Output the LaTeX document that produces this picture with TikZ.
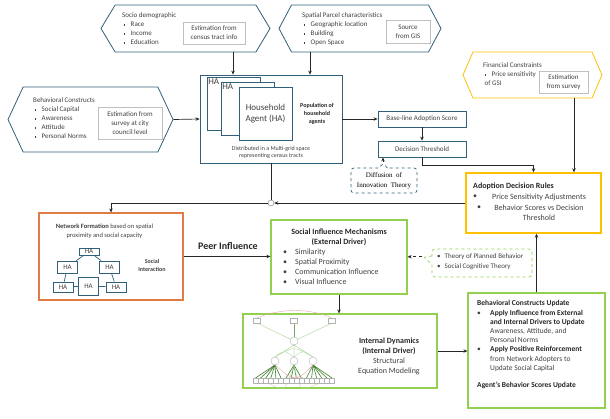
\documentclass[tikz,border=0pt]{standalone}
\usepackage{fontspec}
\setmainfont{Carlito}
\newfontfamily\theoryfont{Liberation Serif}
\usepackage{tikz}
\usetikzlibrary{arrows.meta, positioning, calc, shapes.symbols, shapes.callouts}
\definecolor{agentblue}{HTML}{31607A}
\definecolor{rulegold}{HTML}{FFC000}
\definecolor{drivergreen}{HTML}{92D050}
\definecolor{netorange}{HTML}{E07B45}
\definecolor{notegray}{HTML}{BFBFBF}
\definecolor{textgray}{HTML}{404040}
\definecolor{semgreen}{HTML}{3E7E2A}
\definecolor{semlight}{HTML}{B5D9A5}
\definecolor{semred}{HTML}{EBA8A8}
\newcommand{\sqitem}[1]{\hspace*{1.5pt}\raisebox{0.25ex}{\rule{1.5pt}{1.5pt}}\hspace{5.5pt}#1}
\newcommand{\hangbul}{\makebox[13pt][l]{\textbullet}}
\newcommand{\hangpad}{\hspace*{13pt}}

\begin{document}
\begin{tikzpicture}[x=1pt, y=-1pt, font=\fontsize{7}{9}\selectfont, text=textgray,
  inputbox/.style={signal, signal to=west and east, draw=agentblue, line width=0.8pt, inner sep=0pt},
  notebox/.style={draw=notegray, line width=0.8pt, align=center, inner sep=1pt},
  agentbox/.style={draw=agentblue, line width=0.8pt, fill=white, inner sep=0pt},
  drivebox/.style={draw=drivergreen, line width=1.2pt, inner sep=0pt},
  hanode/.style={agentbox, font=\fontsize{7}{8}\selectfont, minimum width=20pt},
  theorynote/.style={rectangle callout, rounded corners=3pt, dashed, line width=0.7pt, inner sep=0pt, callout pointer width=8pt},
  link/.style={-{Stealth[length=4pt,width=3.5pt]}, line width=0.7pt, draw=black!85}]
  \useasboundingbox (0,0) rectangle (610,418);

  % Input hexagons
  \node[inputbox, minimum width=169pt, minimum height=47pt, signal pointer angle=118] (socio) at (185.5,28.5) {};
  \node[anchor=north west, align=left, inner sep=0pt] at (122,12.5) {Socio demographic\\ \sqitem{Race}\\ \sqitem{Income}\\ \sqitem{Education}};
  \node[notebox, minimum width=62pt, minimum height=22pt] (censusnote) at (214,33) {Estimation from\\census tract info};

  \node[inputbox, minimum width=162pt, minimum height=47pt, signal pointer angle=124] (parcel) at (360,28.5) {};
  \node[anchor=north west, align=left, inner sep=0pt] at (302,12.5) {Spatial Parcel characteristics\\ \sqitem{Geographic location}\\ \sqitem{Building}\\ \sqitem{Open Space}};
  \node[notebox, minimum width=44pt, minimum height=23pt] (gisnote) at (408,31.5) {Source\\from GIS};

  \node[inputbox, minimum width=165pt, minimum height=65pt, signal pointer angle=130] (behav) at (90.5,119.5) {};
  \node[anchor=north west, align=left, inner sep=0pt] at (33,97.5) {Behavioral Constructs\\ \sqitem{Social Capital}\\ \sqitem{Awareness}\\ \sqitem{Attitude}\\ \sqitem{Personal Norms}};
  \node[notebox, minimum width=64pt, minimum height=32pt] (surveynote) at (130,123) {Estimation from\\survey at city\\council level};

  \node[inputbox, draw=rulegold, minimum width=139pt, minimum height=46pt, signal pointer angle=133] (finance) at (532.5,75) {};
  \node[anchor=north west, align=left, inner sep=0pt] at (483,62.5) {Financial Constraints\\ \sqitem{Price sensitivity}\\ \hspace*{1.5pt}of GSI};
  \node[notebox, minimum width=49pt, minimum height=22pt] (finnote) at (563.5,82) {Estimation\\from survey};

  % Population of household agents
  \node[draw=agentblue, line width=0.8pt, minimum width=142pt, minimum height=88pt] (pop) at (271,119) {};
  \node[agentbox, minimum width=53pt, minimum height=53pt] (haA) at (233.5,103.5) {};
  \node[anchor=north west, font=\fontsize{9}{10}\selectfont, inner sep=1.5pt] at (haA.north west) {HA};
  \node[agentbox, minimum width=53pt, minimum height=53pt] (haB) at (247.5,108.5) {};
  \node[anchor=north west, font=\fontsize{9}{10}\selectfont, inner sep=1.5pt] at (haB.north west) {HA};
  \node[agentbox, minimum width=53pt, minimum height=53pt, align=center, font=\fontsize{9}{11}\selectfont] (haC) at (265.5,113.5) {Household\\Agent (HA)};
  \node[align=center, font=\bfseries\fontsize{6}{8}\selectfont, text=black!85] at (317,113.5) {Population of\\household\\agents};
  \node[align=center, font=\fontsize{6}{7}\selectfont] at (271,152.5) {Distributed in a Multi-grid space\\representing census tracts};

  % Scores
  \node[draw=agentblue, line width=0.8pt, minimum width=88pt, minimum height=16pt] (baseline) at (422,119) {Base-line Adoption Score};
  \node[draw=agentblue, line width=0.8pt, minimum width=88pt, minimum height=16pt] (threshold) at (422,149) {Decision Threshold};
  \node[theorynote, draw=agentblue, minimum width=66pt, minimum height=25pt, callout absolute pointer={(383,163)}, align=center, font=\theoryfont\fontsize{7}{10}\selectfont, text=black] (diffusion) at (384,180.5) {Diffusion\enspace of\\Innovation\enspace Theory};

  % Adoption decision rules
  \node[draw=rulegold, line width=1.4pt, minimum width=135pt, minimum height=60pt] (adopt) at (533.5,203) {};
  \node[anchor=west, inner sep=0pt, font=\bfseries\fontsize{8}{10}\selectfont, text=black!85] at (473,186) {Adoption Decision Rules};
  \node[inner sep=0pt, font=\fontsize{8}{10}\selectfont] at (475,197) {\textbullet};
  \node[inner sep=0pt, font=\fontsize{8}{10}\selectfont] at (479,207.5) {\textbullet};
  \node[align=center, inner sep=0pt, font=\fontsize{8}{10.5}\selectfont] at (539,207.5) {Price Sensitivity Adjustments\\Behavior Scores vs Decision\\Threshold};

  % Network formation
  \node[draw=netorange, line width=1.2pt, minimum width=144pt, minimum height=87pt] (net) at (111,256.5) {};
  \node[align=center, font=\fontsize{6.5}{9}\selectfont] at (104.5,231.5) {\textbf{Network Formation} based on spatial\\proximity and social capacity};
  \node[hanode, minimum height=7pt] (haTop) at (89,251.5) {HA};
  \node[hanode, minimum height=12pt] (haLeft) at (67.5,267) {HA};
  \node[hanode, minimum height=12pt] (haRight) at (109.5,267) {HA};
  \node[hanode, minimum height=10pt] (haLowL) at (63,287) {HA};
  \node[hanode, minimum height=18pt] (haLowM) at (88.5,286) {HA};
  \node[hanode, minimum height=10pt] (haLowR) at (116,287) {HA};
  \draw[agentblue, line width=0.7pt] (haTop) -- (haLeft) (haTop) -- (haRight) (haLeft) -- (haLowL) (haRight) -- (haLowR) (haLowL) -- (haLowM) (haLowM) -- (haLowR);
  \node[align=center, font=\bfseries\fontsize{6}{8}\selectfont] at (152,265) {Social\\Interaction};
  \node[font=\bfseries\fontsize{10}{12}\selectfont, text=black!85] at (228,246) {Peer Influence};

  % Drivers
  \node[drivebox, minimum width=136pt, minimum height=74pt] (social) at (339,257) {};
  \node[align=center, font=\bfseries\fontsize{8}{10.5}\selectfont, text=black!85] at (339,237.5) {Social Influence Mechanisms\\(External Driver)};
  \node[anchor=north west, align=left, inner sep=0pt, font=\fontsize{8}{10}\selectfont] at (283,249) {\textbullet\hspace{8pt}Similarity\\\textbullet\hspace{8pt}Spatial Proximity\\\textbullet\hspace{8pt}Communication Influence\\\textbullet\hspace{8pt}Visual Influence};
  \node[theorynote, draw=drivergreen, minimum width=100pt, minimum height=28pt, callout absolute pointer={(423,257)}] (theory) at (482,263) {};
  \node[anchor=north west, align=left, inner sep=0pt, font=\fontsize{7}{10}\selectfont] at (437,253.5) {\textbullet\hspace{4pt}Theory of Planned Behavior\\\textbullet\hspace{4pt}Social Cognitive Theory};

  \node[drivebox, minimum width=194pt, minimum height=74pt] (internal) at (340,351) {};
  \node[align=center, font=\fontsize{8}{10}\selectfont] at (389,356) {\textbf{\color{black!85}Internal Dynamics}\\\textbf{\color{black!85}(Internal Driver)}\\Structural\\Equation Modeling};

  % SEM sketch
  \draw[semred, line width=0.4pt] (257,318) .. controls (280,308) and (310,308) .. (332,318);
  \draw[semlight, line width=0.5pt] (257,323) -- (294,341) (332,323) -- (294,341);
  \draw[semgreen!70, line width=1pt] (294,323) -- (294,337);
  \draw[semlight, line width=0.5pt] (294,345) -- (275,357) (294,345) -- (294,357) (294,345) -- (313,357);
  \draw[semlight, line width=0.4pt] (275,357) .. controls (284,350) .. (294,357) (294,357) .. controls (303,350) .. (313,357) (275,357) .. controls (294,346) .. (313,357);
  \foreach \k in {0,...,5}
    \draw[semgreen, line width=0.6pt] (275,365) -- (255.5+\k*5.1,378);
  \foreach \k in {6,...,9}
    \draw[semgreen, line width=0.6pt] (294,365) -- (255.5+\k*5.1,378);
  \foreach \k in {10,...,15}
    \draw[semgreen, line width=0.6pt] (313,365) -- (255.5+\k*5.1,378);
  \draw[semred, line width=0.4pt] (275,365) .. controls (290,378) .. (305,378) (313,365) .. controls (300,378) .. (285,378);
  \draw[semlight, line width=0.4pt] (294,365) .. controls (300,392) .. (320,383) (294,365) .. controls (285,392) .. (268,383);
  \foreach \px in {257,294,332}
    \draw[gray!60, fill=white, line width=0.4pt] (\px-3.5,318.5) rectangle (\px+3.5,323.5);
  \foreach \px/\py in {294/341, 275/361, 294/361, 313/361}
    \draw[gray!60, fill=white, line width=0.4pt] (\px,\py) circle (4);
  \foreach \k in {0,...,15}
    \draw[gray!60, fill=white, line width=0.4pt] (253+\k*5.1,378) rectangle (258.1+\k*5.1,383);

  % Behavioral constructs update
  \node[drivebox, minimum width=137pt, minimum height=115pt] (update) at (536.5,350.5) {};
  \node[anchor=north west, align=left, inner sep=0pt, font=\fontsize{7.5}{9.2}\selectfont] at (477,300.5) {\textbf{\color{black!85}Behavioral Constructs Update}\\
    \hangbul\textbf{\color{black!85}Apply Influence from External}\\
    \hangpad\textbf{\color{black!85}and Internal Drivers to Update}\\
    \hangpad Awareness, Attitude, and\\
    \hangpad Personal Norms\\
    \hangbul\textbf{\color{black!85}Apply Positive Reinforcement}\\
    \hangpad from Network Adopters to\\
    \hangpad Update Social Capital\\[7.5pt]
    \textbf{\color{black!85}Agent's Behavior Scores Update}};

  % Connectors
  \coordinate (fincol) at (574,0);
  \node[circle, draw=black!55, fill=white, inner sep=0pt, minimum size=6pt] (merge) at (271,203) {};
  \draw[link] (socio.south -| 233,0) -- (pop.north -| 233,0);
  \draw[link] (parcel.south -| 310,0) -- (pop.north -| 310,0);
  \draw[link] (behav.east) -- (pop.west);
  \draw[link] (pop.east) -- (baseline.west);
  \draw[link] (baseline.south) -- (threshold.north);
  \draw[link, dashed] (diffusion.pointer) -- (diffusion.pointer |- threshold.south);
  \draw[link] (threshold.south) -- ++(0,8) -| (adopt.north);
  \draw[link] (finance.south -| fincol) -- (adopt.north -| fincol);
  \draw[line width=0.7pt, black!85] (pop.south) -- (merge.north);
  \draw[link] (adopt.west) -- (merge.east);
  \draw[link] (merge.west) -| (net.north);
  \draw[link] (net.east) -- (net.east -| social.west);
  \draw[link, dashed] (theory.pointer) -- (theory.pointer -| social.east);
  \draw[link] (social.south) -- (social.south |- internal.north);
  \draw[link] (internal.east) -- (internal.east -| update.west);
  \draw[link] (update.north) -- (update.north |- adopt.south);
\end{tikzpicture}
\end{document}
